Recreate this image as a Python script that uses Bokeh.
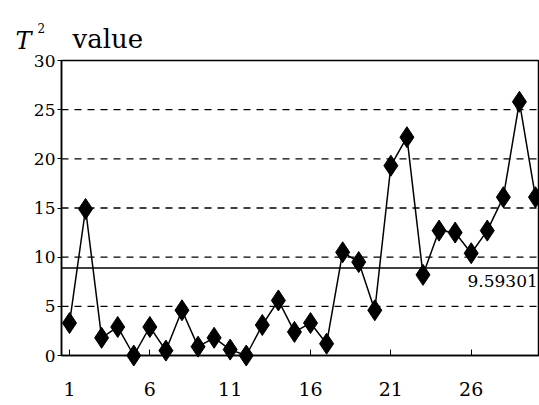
from bokeh.plotting import figure
from bokeh.models import Span, Label, FixedTicker, Range1d
from bokeh.core.properties import value
from bokeh.embed import file_html
from bokeh.resources import INLINE

# data
samples = list(range(1, 31))
t2_values = [3.3, 14.9, 1.8, 2.9, 0.0, 2.9, 0.5, 4.6, 0.9, 1.8,
             0.6, 0.0, 3.1, 5.6, 2.4, 3.3, 1.2, 10.5, 9.5, 4.6,
             19.3, 22.2, 8.2, 12.7, 12.5, 10.4, 12.7, 16.1, 25.8, 16.1]
x_ticks = [1, 6, 11, 16, 21, 26]
y_ticks = [0, 5, 10, 15, 20, 25, 30]
grid_levels = [5, 10, 15, 20, 25]
limit_line = 8.9
limit_label = "9.59301"
x_lo, x_hi = 0.502, 30.25
y_lo, y_hi = 0, 30

FONT = "DejaVu Serif"

p = figure(width=539, height=405, output_backend="svg", toolbar_location=None,
           x_range=Range1d(x_lo, x_hi), y_range=Range1d(y_lo, y_hi),
           min_border_left=61, min_border_right=0, min_border_top=60, min_border_bottom=50)
p.outline_line_color = "black"
p.outline_line_width = 1.5
p.xgrid.visible = False
p.ygrid.visible = False
p.background_fill_color = "white"
p.border_fill_color = "white"

for lvl in grid_levels:
    p.add_layout(Span(location=lvl, dimension="width", line_color="black",
                      line_dash="7 6", line_width=1.4))
p.add_layout(Span(location=limit_line, dimension="width", line_color="black", line_width=1.5))

p.line(samples, t2_values, line_color="black", line_width=1.5)
p.scatter(samples, t2_values, marker="diamond", size=21, fill_color="black",
          line_color="black", level="overlay")

p.xaxis.ticker = FixedTicker(ticks=x_ticks)
p.yaxis.ticker = FixedTicker(ticks=y_ticks)
for ax in (p.xaxis[0], p.yaxis[0]):
    ax.axis_line_color = "black"
    ax.axis_line_width = 1.5
    ax.minor_tick_line_color = None
    ax.major_label_text_font = FONT
    ax.major_label_text_color = "black"
p.xaxis.major_label_text_font_size = "19px"
p.yaxis.major_label_text_font_size = "17px"
p.xaxis.major_tick_in = 6
p.xaxis.major_tick_out = 0
p.xaxis.major_label_standoff = 26
p.yaxis.major_tick_in = 0
p.yaxis.major_tick_out = 4
p.yaxis.major_label_standoff = 2

p.add_layout(Label(x=25.77, y=limit_line, text=limit_label, y_offset=-7,
                   text_baseline="top", text_font=FONT, text_font_size="17px",
                   text_color="black"))

# axis title "T² value" anchored at the top-left corner of the frame
p.text(x=[x_lo], y=[y_hi], text=["T"], x_offset=-46, y_offset=-20,
       text_font=value(FONT), text_font_style="italic", text_font_size="24px",
       text_baseline="alphabetic", text_color="black", level="overlay")
p.text(x=[x_lo], y=[y_hi], text=["2"], x_offset=-24, y_offset=-33,
       text_font=value(FONT), text_font_size="12px",
       text_baseline="alphabetic", text_color="black", level="overlay")
p.text(x=[x_lo], y=[y_hi], text=["value"], x_offset=11, y_offset=-22,
       text_font=value(FONT), text_font_size="26px",
       text_baseline="alphabetic", text_color="black", level="overlay")

open("out.html", "w").write(file_html(p, INLINE))
